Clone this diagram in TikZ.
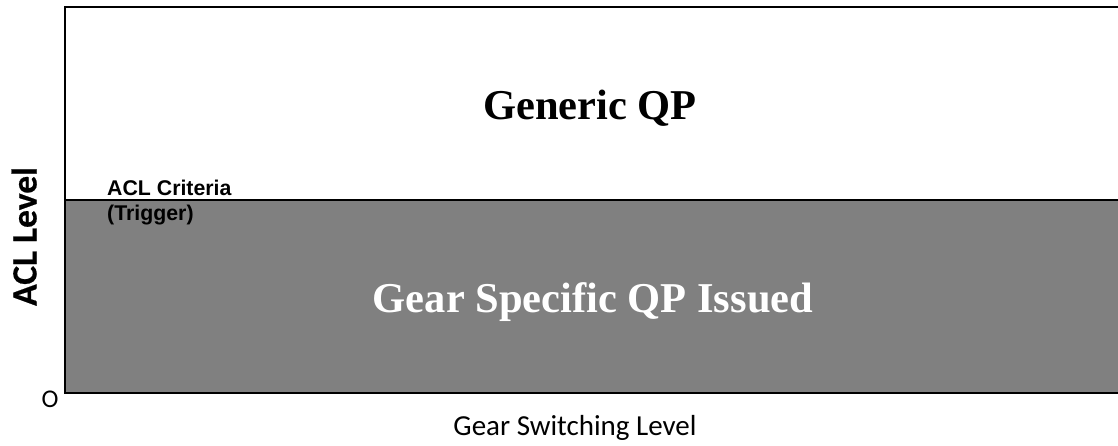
\documentclass[tikz,border=0pt]{standalone}
\usepackage{fontspec}
\setmainfont{Liberation Serif}
\newfontfamily\arialfont{Liberation Sans}
\newfontfamily\calibrifont{Carlito}
\newfontfamily\heavyfont{Carlito}[UprightFont={* Bold}, FakeBold=0.5]
\begin{document}
\begin{tikzpicture}[x=1pt,y=-1pt,
  region/.style={font=\bfseries\fontsize{42.5}{48}\selectfont, inner sep=0pt},
  criteria/.style={font=\arialfont\bfseries\fontsize{21.3}{25}\selectfont, inner sep=0pt, anchor=base west},
  axislabel/.style={font=\calibrifont\fontsize{29}{34}\selectfont, inner sep=0pt},
  frameline/.style={line width=2.2pt, line cap=rect}]
\useasboundingbox (0,0) rectangle (1118,445);
% lower band: area below the trigger level
\fill[fill={rgb,255:red,128;green,128;blue,128}] (65,200) rectangle (1118,393);
% trigger level
\draw[line width=1.4pt] (65,200) -- (1118,200);
% plot frame: top edge, y axis and x axis
\draw[frameline] (1118,7) -- (65,7) -- (65,393) -- (1118,393);
% region labels
\node[region, anchor=base] (generic) at (590,119) {Generic QP};
\node[region, anchor=base, text=white] (gear) at (593,312) {Gear Specific QP Issued};
\node[criteria] (crit) at (107,195) {ACL Criteria};
\node[criteria] (trig) at (107,220) {(Trigger)};
% axis labels
\node[font=\heavyfont\fontsize{35.5}{40}\selectfont, inner sep=0pt, rotate=90, anchor=base] (ylab) at (36.5,236.5) {ACL Level};
\node[axislabel, anchor=base] (xlab) at (575,435) {Gear Switching Level};
\node[font=\calibrifont\fontsize{25.5}{30}\selectfont, inner sep=0pt, anchor=base] (origin) at (50,407.5) {O};
\end{tikzpicture}
\end{document}
